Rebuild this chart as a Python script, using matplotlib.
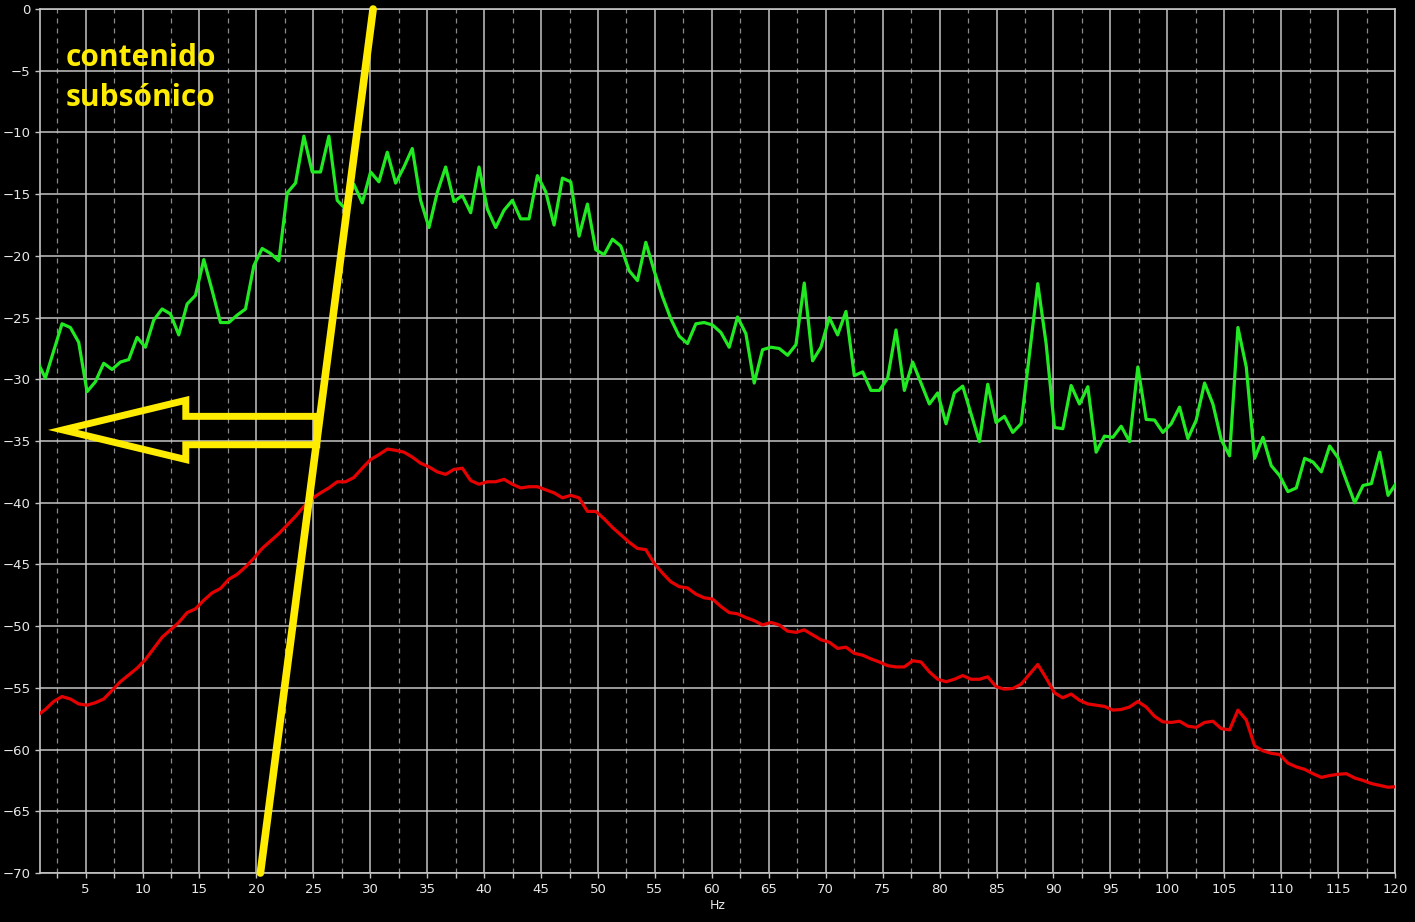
import numpy as np
import matplotlib
matplotlib.use("Agg")
import matplotlib.pyplot as plt
from matplotlib.patches import Polygon
from matplotlib.ticker import MultipleLocator

# ==========================================
# DATA
# ==========================================

# FFT bin width (48 kHz, 65536 points)
BIN_HZ = 48000 / 65536

green_db = [
    -28.5, -29.9, -27.7, -25.5, -25.8, -27.0, -31.0, -30.2, -28.7, -29.2,
    -28.6, -28.4, -26.6, -27.4, -25.2, -24.3, -24.7, -26.4, -23.9, -23.2,
    -20.3, -22.8, -25.4, -25.4, -24.8, -24.3, -20.8, -19.4, -19.8, -20.4,
    -14.9, -14.1, -10.3, -13.2, -13.2, -10.3, -15.5, -16.2, -14.2, -15.7,
    -13.2, -14.0, -11.6, -14.1, -12.8, -11.3, -15.5, -17.7, -14.85, -12.8,
    -15.6, -15.1, -16.5, -12.8, -16.2, -17.7, -16.3, -15.5, -17.0, -17.0,
    -13.5, -14.8, -17.5, -13.7, -14.0, -18.4, -15.8, -19.5, -19.9, -18.65,
    -19.2, -21.2, -22.0, -18.9, -21.2, -23.3, -25.1, -26.5, -27.1, -25.5,
    -25.4, -25.6, -26.2, -27.4, -24.95, -26.3, -30.3, -27.6, -27.4, -27.5,
    -28.05, -27.2, -22.2, -28.5, -27.4, -25.0, -26.4, -24.5, -29.7, -29.4,
    -30.9, -30.9, -29.9, -26.0, -30.9, -28.6, -30.3, -32.0, -31.1, -33.6,
    -31.1, -30.55, -32.8, -35.05, -30.4, -33.5, -33.0, -34.3, -33.6, -28.0,
    -22.25, -27.1, -33.9, -34.0, -30.5, -32.0, -30.6, -35.9, -34.6, -34.7,
    -33.8, -35.05, -29.0, -33.25, -33.3, -34.3, -33.6, -32.25, -34.8, -33.3,
    -30.3, -32.0, -34.9, -36.2, -25.8, -29.0, -36.4, -34.7, -37.0, -37.8,
    -39.1, -38.8, -36.4, -36.7, -37.5, -35.4, -36.35, -38.2, -40.0, -38.6,
    -38.45, -35.9, -39.4, -38.4,
]

red_db = [
    -57.25, -56.75, -56.1, -55.7, -55.9, -56.3, -56.4, -56.2, -55.9, -55.2,
    -54.5, -53.95, -53.4, -52.7, -51.8, -50.9, -50.3, -49.7, -48.9, -48.6,
    -47.9, -47.3, -46.95, -46.2, -45.8, -45.2, -44.5, -43.7, -43.1, -42.5,
    -41.8, -41.1, -40.3, -39.65, -39.2, -38.8, -38.3, -38.3, -37.95, -37.2,
    -36.5, -36.1, -35.65, -35.75, -35.9, -36.3, -36.8, -37.1, -37.5, -37.7,
    -37.3, -37.2, -38.2, -38.5, -38.3, -38.3, -38.1, -38.5, -38.8, -38.7,
    -38.7, -38.95, -39.2, -39.6, -39.4, -39.6, -40.7, -40.7, -41.3, -42.0,
    -42.6, -43.2, -43.7, -43.8, -44.9, -45.7, -46.4, -46.8, -46.9, -47.4,
    -47.7, -47.8, -48.4, -48.9, -49.0, -49.3, -49.55, -49.9, -49.7, -49.9,
    -50.4, -50.5, -50.3, -50.7, -51.1, -51.3, -51.8, -51.7, -52.2, -52.35,
    -52.65, -52.9, -53.2, -53.3, -53.3, -52.8, -52.9, -53.7, -54.3, -54.5,
    -54.3, -54.0, -54.3, -54.3, -54.1, -54.9, -55.1, -55.05, -54.7, -53.9,
    -53.1, -54.2, -55.4, -55.8, -55.5, -56.0, -56.3, -56.4, -56.5, -56.8,
    -56.75, -56.55, -56.1, -56.55, -57.3, -57.75, -57.8, -57.7, -58.1, -58.2,
    -57.8, -57.7, -58.3, -58.4, -56.8, -57.6, -59.7, -60.1, -60.3, -60.4,
    -61.1, -61.4, -61.6, -61.95, -62.25, -62.1, -62.0, -61.95, -62.3, -62.5,
    -62.75, -62.9, -63.05, -63.0,
]

freqs = np.arange(1, len(green_db) + 1) * BIN_HZ

# annotation: cutoff line and outline arrow (Hz, dB)
cut_hz = [20.35, 30.25]
cut_db = [-70, 0]
arrow_hz = [3.0, 13.8, 13.8, 25.3, 25.3, 13.8, 13.8]
arrow_db = [-34.1, -31.7, -33.0, -33.0, -35.3, -35.3, -36.5]

label_text = "contenido\nsubsónico"

# ==========================================
# PLOT
# ==========================================

YELLOW = "#ffec00"
GRID = "#c4c4c4"

fig = plt.figure(figsize=(14.15, 9.22), dpi=100, facecolor="black")
ax = fig.add_axes([0.0283, 0.0531, 0.9576, 0.9371])
ax.set_facecolor("black")

ax.plot(freqs, green_db, color="#22ea22", lw=2.3, zorder=3)
ax.plot(freqs, red_db, color="#e60000", lw=2.3, zorder=3)

ax.set_xlim(1, 120)
ax.set_ylim(-70, 0)

ax.xaxis.set_major_locator(MultipleLocator(5))
ax.set_xticks(np.arange(2.5, 120, 5), minor=True)
ax.yaxis.set_major_locator(MultipleLocator(5))

ax.grid(which="major", color=GRID, lw=1.1, ls="-", zorder=1)
ax.grid(which="minor", axis="x", color="#8a8a8a", lw=0.9, ls=(0, (4, 4)), zorder=1)

for side in ax.spines.values():
    side.set_color(GRID)
    side.set_linewidth(1.2)

ax.tick_params(which="both", colors=GRID, labelcolor="#e8e8e8",
               labelsize=9.5, length=3.5, width=1)

ax.set_xlabel("Hz", color="#e8e8e8", fontsize=9, labelpad=2)

# yellow annotations
ax.plot(cut_hz, cut_db, color=YELLOW, lw=5.5, solid_capstyle="round",
        clip_on=False, zorder=5)

arrow = Polygon(np.column_stack([arrow_hz, arrow_db]), closed=True,
                fill=False, edgecolor=YELLOW, lw=5, joinstyle="miter",
                zorder=5)
ax.add_patch(arrow)

ax.text(3.25, -2.75, label_text, color=YELLOW, fontsize=21.5,
        fontweight="bold", family=["Open Sans", "DejaVu Sans"],
        va="top", ha="left", linespacing=1.45, zorder=6)

fig.savefig("out.png", dpi=100, facecolor="black")
